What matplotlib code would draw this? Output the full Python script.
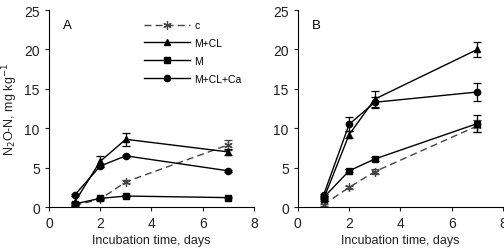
import matplotlib.pyplot as plt

plt.rcParams['font.family'] = ['Liberation Sans', 'DejaVu Sans']

# sampling days
days = [1, 2, 3, 7]
series = ['c', 'M+CL', 'M', 'M+CL+Ca']
markers = {'c': (6, 2, 0), 'M+CL': '^', 'M': 's', 'M+CL+Ca': 'o'}

# Panel A values
a_c = [0.2, 1.0, 3.2, 7.9]
a_mcl = [0.6, 5.8, 8.6, 7.0]
a_m = [0.4, 1.1, 1.4, 1.2]
a_mclca = [1.5, 5.2, 6.5, 4.6]
a_c_err = [0.1, 0.1, 0.2, 0.6]
a_mcl_err = [0.1, 0.7, 0.8, 0.4]
a_m_err = [0.1, 0.1, 0.1, 0.1]
a_mclca_err = [0.1, 0.1, 0.1, 0.1]

# Panel B values
b_c = [0.3, 2.5, 4.5, 10.3]
b_mcl = [1.0, 9.2, 13.7, 20.0]
b_m = [1.2, 4.6, 6.1, 10.6]
b_mclca = [1.5, 10.5, 13.3, 14.6]
b_c_err = [0.1, 0.2, 0.3, 0.8]
b_mcl_err = [0.2, 0.4, 1.0, 1.0]
b_m_err = [0.2, 0.2, 0.2, 1.1]
b_mclca_err = [0.2, 0.9, 0.7, 1.1]

fig = plt.figure(figsize=(5.04, 2.51), dpi=100)
axA = fig.add_axes([0.097, 0.171, 0.407, 0.785])
axB = fig.add_axes([0.591, 0.171, 0.407, 0.785])

panels = [
    (axA, 'A', [a_c, a_mcl, a_m, a_mclca], [a_c_err, a_mcl_err, a_m_err, a_mclca_err]),
    (axB, 'B', [b_c, b_mcl, b_m, b_mclca], [b_c_err, b_mcl_err, b_m_err, b_mclca_err]),
]

for ax, letter, vals, errs in panels:
    for name, y, e in zip(series, vals, errs):
        col = '#444444' if name == 'c' else 'black'
        ax.errorbar(days, y, yerr=e, fmt='none', ecolor=col, capsize=3,
                    elinewidth=0.9, capthick=0.9)
        if name == 'c':
            ax.plot(days, y, color=col, linestyle='--', dashes=(5, 3), linewidth=1.0,
                    marker=markers[name], markersize=6, markeredgewidth=0.9, label=name)
        else:
            ax.plot(days, y, color=col, linestyle='-', linewidth=1.0,
                    marker=markers[name], markersize=4.5, label=name)
    ax.set_xlim(0, 8)
    ax.set_ylim(0, 25)
    ax.set_xticks([0, 2, 4, 6, 8])
    ax.set_yticks([0, 5, 10, 15, 20, 25])
    ax.spines['top'].set_visible(False)
    ax.spines['right'].set_visible(False)
    ax.tick_params(labelsize=10, length=3, width=0.8, colors='#222222')
    ax.set_xlabel('Incubation time, days', fontsize=9, labelpad=3, color='#222222')
    ax.text(0.07, 0.955, letter, transform=ax.transAxes, fontsize=9.5, va='top')

axA.set_ylabel('N$_2$O-N, mg kg$^{-1}$', fontsize=9, labelpad=3, color='#222222')
axA.legend(loc='upper left', bbox_to_anchor=(0.43, 0.985), frameon=False,
           fontsize=7.5, handlelength=4.4, numpoints=1, labelspacing=0.75,
           borderpad=0.2, handletextpad=0.4)

fig.savefig('out.png', dpi=100)
